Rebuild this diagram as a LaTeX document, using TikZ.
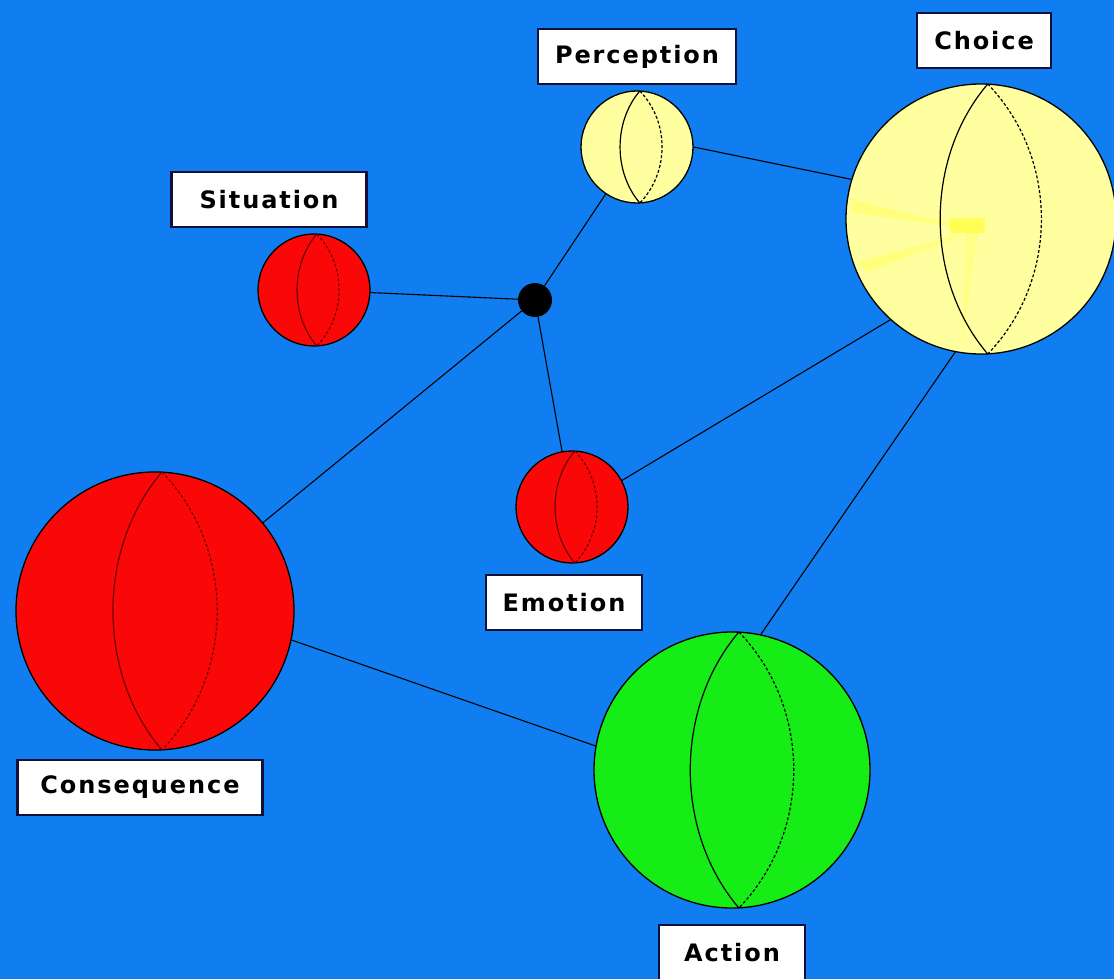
\documentclass[tikz,border=0pt]{standalone}
\usepackage{fontspec}
\newfontfamily\tagfont{DejaVu Sans}[LetterSpace=8]
\usetikzlibrary{positioning}

\definecolor{bgblue}{RGB}{16,126,240}
\definecolor{ballred}{RGB}{250,8,8}
\definecolor{ballyellow}{RGB}{255,255,160}
\definecolor{ballgreen}{RGB}{22,236,22}
\definecolor{arcred}{RGB}{110,0,0}
\definecolor{streak}{RGB}{255,255,40}
\definecolor{boxline}{RGB}{16,16,56}

\begin{document}
\begin{tikzpicture}[
            x = 1pt, y = -1pt, % one unit per pixel, y downwards
            link/.style = {draw=black, line width=1.1pt},
            ball/.style = {shape=circle, draw=black, line width=1.3pt, inner sep=0pt},
            hub/.style = {shape=circle, fill=black, minimum size=34pt, inner sep=0pt},
            tag/.style = {shape=rectangle, draw=boxline, line width=2.2pt, fill=white,
                          minimum height=55pt, inner xsep=17pt,
                          font=\tagfont\bfseries\fontsize{24}{28}\selectfont}
        ]

        \useasboundingbox (0,0) rectangle (1114,979);
        \fill[bgblue] (0,0) rectangle (1114,979);

        % spheres
        \node[ball, fill=ballyellow, minimum size=112pt] (perc)   at (637,147) {};
        \node[ball, fill=ballyellow, minimum size=270pt] (choice) at (981,219) {};
        \node[ball, fill=ballred,    minimum size=112pt] (sit)    at (314,290) {};
        \node[ball, fill=ballred,    minimum size=112pt] (emo)    at (572,507) {};
        \node[ball, fill=ballred,    minimum size=278pt] (cons)   at (155,611) {};
        \node[ball, fill=ballgreen,  minimum size=276pt] (act)    at (732,770) {};
        \node[hub] (mid) at (535,300) {};

        % faint bright streaks in the big yellow sphere
        \fill[streak, opacity=0.3] (852,200) -- (852,213) -- (976,229) -- cycle;
        \fill[streak, opacity=0.3] (858,262) -- (867,272) -- (972,232) -- cycle;
        \fill[streak, opacity=0.6] (950,218) rectangle (985,233);
        \fill[streak, opacity=0.2] (966,232) -- (978,232) -- (962,345) -- cycle;

        % meridians
        \foreach \n/\r/\c in {perc/56/black, choice/135/black, sit/56/arcred,
                              emo/56/arcred, cons/139/arcred, act/138/black} {
            \draw[\c, line width=1.2pt]
                ([shift={({0.05*\r},{-\r})}]\n.center)
                .. controls +({-0.47*\r},{0.55*\r}) and +({-0.47*\r},{-0.55*\r}) ..
                ([shift={({0.05*\r},{\r})}]\n.center);
            \draw[\c, line width=1.2pt, dash pattern=on 3pt off 2pt]
                ([shift={({0.05*\r},{-\r})}]\n.center)
                .. controls +({0.53*\r},{0.55*\r}) and +({0.53*\r},{-0.55*\r}) ..
                ([shift={({0.05*\r},{\r})}]\n.center);
        }

        % labels
        \node[tag] (perc label)   [above=5pt of perc]                  {Perception};
        \node[tag] (choice label) [above=14pt of choice, xshift=3pt]    {Choice};
        \node[tag, minimum width=195pt] (sit label) [above=5pt of sit, xshift=-45pt] {Situation};
        \node[tag] (emo label)    [below=10pt of emo, xshift=-8pt]     {Emotion};
        \node[tag, minimum width=245pt] (cons label) [below=8pt of cons, xshift=-15pt] {Consequence};
        \node[tag, minimum width=146pt] (act label) [below=15pt of act] {Action};

        % connectors
        \draw[link] (sit)  -- (mid);
        \draw[link] (perc) -- (mid);
        \draw[link] (mid)  -- (emo);
        \draw[link] (mid)  -- (cons);
        \draw[link] (perc.east) -- (choice.163);
        \draw[link] (emo.28)    -- (choice.228);
        \draw[link] (choice.259) -- (act.78);
        \draw[link] (cons.348)  -- (act.170);
    \end{tikzpicture}
\end{document}
